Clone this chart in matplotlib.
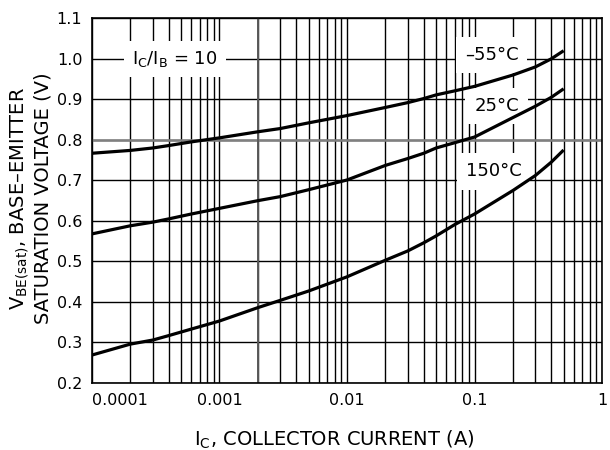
import matplotlib
matplotlib.use("Agg")
import matplotlib.pyplot as plt
from matplotlib.ticker import LogLocator, NullFormatter

# collector current (A) and Vbe(sat) (V) for Ic/Ib = 10
ic = [1e-4, 2e-4, 3e-4, 4e-4, 6e-4, 1e-3, 2e-3, 3e-3, 5e-3, 1e-2,
      2e-2, 3e-2, 4e-2, 5e-2, 7e-2, 0.1, 0.2, 0.3, 0.4, 0.5]
vbe_m55 = [0.767, 0.774, 0.780, 0.786, 0.795, 0.805, 0.820, 0.828, 0.842, 0.860,
           0.880, 0.892, 0.902, 0.911, 0.921, 0.932, 0.960, 0.980, 1.000, 1.020]
vbe_25 = [0.568, 0.588, 0.597, 0.605, 0.617, 0.631, 0.650, 0.660, 0.677, 0.701,
          0.737, 0.754, 0.767, 0.780, 0.793, 0.807, 0.855, 0.883, 0.905, 0.926]
vbe_150 = [0.269, 0.296, 0.306, 0.317, 0.333, 0.353, 0.386, 0.404, 0.427, 0.462,
           0.503, 0.526, 0.546, 0.563, 0.591, 0.617, 0.675, 0.712, 0.745, 0.775]

curvas = [(vbe_m55, "–55°C", 0.136, 1.009),
          (vbe_25, "25°C", 0.149, 0.883),
          (vbe_150, "150°C", 0.141, 0.722)]

xticks = [1e-4, 1e-3, 1e-2, 1e-1, 1]
xlabels = ["0.0001", "0.001", "0.01", "0.1", "1"]
yticks = [0.2, 0.3, 0.4, 0.5, 0.6, 0.7, 0.8, 0.9, 1.0, 1.1]

fig = plt.figure(figsize=(6.1, 4.5), dpi=100)
ax = fig.add_axes([0.1508, 0.1489, 0.8361, 0.8104])

ax.set_xscale("log")
ax.set_xlim(1e-4, 1)
ax.set_ylim(0.2, 1.1)

ax.set_xticks(xticks)
ax.set_xticklabels(xlabels)
ax.xaxis.set_minor_locator(LogLocator(base=10, subs=range(2, 10)))
ax.xaxis.set_minor_formatter(NullFormatter())
ax.set_yticks(yticks)
ax.set_yticklabels(["%.1f" % v for v in yticks])
ax.tick_params(which="both", length=0, labelsize=11.5, pad=7)
ax.get_xticklabels()[0].set_ha("left")

ax.set_axisbelow(True)
ax.grid(which="both", color="k", lw=1.0)
# the two heavier grey rules
ax.axhline(0.8, color="0.5", lw=1.8, zorder=0.6)
ax.axvline(0.002, color="0.35", lw=1.4, zorder=0.6)
for s in ax.spines.values():
    s.set_linewidth(1.2)

for vals, nome, tx, ty in curvas:
    ax.plot(ic, vals, color="k", lw=2.3, zorder=4, solid_capstyle="butt")
    ax.text(tx, ty, nome, fontsize=13, ha="center", va="center", zorder=3,
            bbox=dict(boxstyle="square,pad=0.5", fc="white", ec="none"))

ax.text(4.48e-4, 1.0, r"$\mathregular{I_C/I_B}$ = 10", fontsize=13, ha="center",
        va="center", zorder=3,
        bbox=dict(boxstyle="square,pad=0.45", fc="white", ec="none"))

ax.set_xlabel(r"$\mathregular{I_C}$, COLLECTOR CURRENT (A)", fontsize=14, va="center")
ax.xaxis.set_label_coords(0.476, -0.156)
ax.set_ylabel(r"$\mathregular{V_{BE(sat)}}$, BASE–EMITTER" + "\nSATURATION VOLTAGE (V)",
              fontsize=14, va="center", ha="center", linespacing=1.15)
ax.yaxis.set_label_coords(-0.1206, 0.507)

fig.savefig("out.png", dpi=100)
